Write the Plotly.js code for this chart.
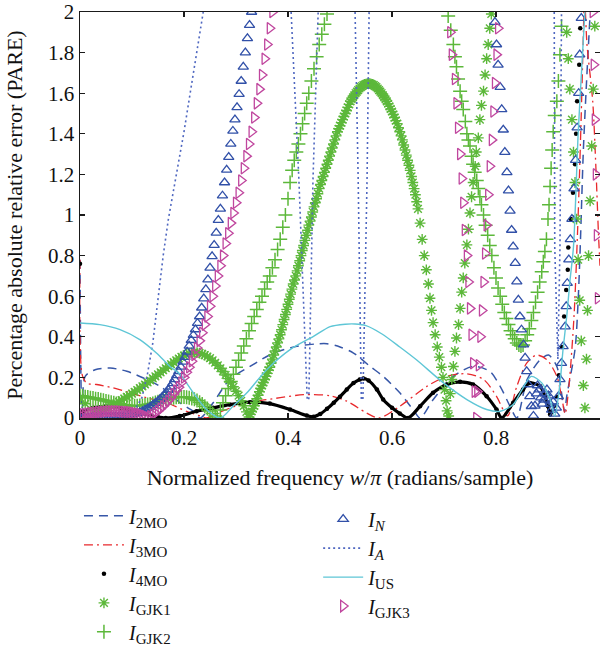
<!DOCTYPE html>
<html>
<head>
<meta charset="utf-8">
<script src="https://cdn.plot.ly/plotly-3.0.1.min.js"></script>
<style>
  html, body { margin: 0; padding: 0; background: #ffffff; }
  #chart { width: 600px; height: 648px; }
</style>
</head>
<body>
<div id="chart"></div>
<script>
// Percentage absolute relative error of several digital integrators
// versus normalized frequency. Each series is a list of [w/pi, PARE] pairs.

const xTickVals = [0, 0.2, 0.4, 0.6, 0.8, 1];
const xTickText = ['0', '0.2', '0.4', '0.6', '0.8', '1'];
const yTickVals = [0, 0.2, 0.4, 0.6, 0.8, 1, 1.2, 1.4, 1.6, 1.8, 2];
const yTickText = ['0', '0.2', '0.4', '0.6', '0.8', '1', '1.2', '1.4', '1.6', '1.8', '2'];

const i2mo = [
  [0,0.78],[0.004,0.0],[0.01,0.205],[0.029,0.238],[0.058,0.246],[0.09,0.23],[0.122,0.197],
  [0.154,0.156],[0.179,0.107],[0.192,0.075],[0.218,0.033],[0.231,0.0],[0.256,0.075],[0.288,0.19],
  [0.327,0.254],[0.372,0.32],[0.417,0.353],[0.455,0.365],[0.475,0.366],[0.5,0.35],[0.526,0.32],
  [0.558,0.254],[0.583,0.205],[0.615,0.124],[0.641,0.04],[0.654,0.0],[0.679,0.09],[0.718,0.205],
  [0.756,0.254],[0.788,0.23],[0.808,0.156],[0.827,0.058],[0.84,0.0],[0.86,0.19],[0.885,0.287],
  [0.901,0.31],[0.917,0.254],[0.926,0.124],[0.932,0.03],[0.936,0.107],[0.952,0.34],[0.958,0.58],
  [0.962,0.844],[0.968,1.32],[0.974,1.65],[0.981,1.99]
];

const i3moRise = [
  [0,0.78],[0.0045,0.21],[0.013,0.172],[0.032,0.165],[0.064,0.148],[0.096,0.124],[0.128,0.1],
  [0.167,0.075],[0.205,0.033],[0.231,0.01],[0.244,0.0],[0.27,0.03],[0.3,0.06],[0.32,0.075],
  [0.385,0.1],[0.43,0.115],[0.48,0.11],[0.513,0.083],[0.551,0.025],[0.575,0.0],[0.615,0.058],
  [0.667,0.156],[0.705,0.205],[0.744,0.218],[0.776,0.19],[0.801,0.107],[0.822,0.01],[0.84,0.156],
  [0.859,0.27],[0.878,0.31],[0.898,0.287],[0.917,0.205],[0.926,0.107],[0.933,0.02],[0.94,0.15],
  [0.95,0.5],[0.958,1.0],[0.964,1.5],[0.969,2.0]
];
const i3moFall = [[0.972,2.0],[0.975,1.84],[0.986,1.56],[0.992,1.24],[0.997,0.91],[1.0,0.75]];

const i4moCurve = [
  [0.002,0.0],[0.006,0.033],[0.025,0.05],[0.05,0.058],[0.077,0.05],[0.115,0.025],[0.15,0.004],
  [0.165,0.0],[0.192,0.01],[0.224,0.033],[0.256,0.05],[0.288,0.066],[0.327,0.078],[0.365,0.071],
  [0.404,0.042],[0.436,0.012],[0.449,0.006],[0.462,0.02],[0.475,0.045],[0.488,0.075],[0.5,0.105],
  [0.513,0.14],[0.526,0.172],[0.538,0.19],[0.545,0.195],[0.555,0.185],[0.571,0.14],[0.583,0.091],
  [0.6,0.05],[0.615,0.022],[0.631,0.0],[0.654,0.058],[0.679,0.124],[0.705,0.165],[0.731,0.178],
  [0.756,0.165],[0.782,0.107],[0.801,0.042],[0.811,0.0],[0.833,0.075],[0.852,0.14],[0.865,0.173],
  [0.885,0.156],[0.894,0.107],[0.9,0.058],[0.904,0.017]
];
const i4moDots = [
  [0,0.76],[0.907,0.03],[0.912,0.06],[0.917,0.105],[0.921,0.21],[0.927,0.35],[0.931,0.5],
  [0.935,0.63],[0.938,0.73],[0.939,0.84],[0.944,0.98],[0.948,1.11],[0.952,1.25],[0.954,1.4],
  [0.956,1.56],[0.96,1.74],[0.962,1.92]
];

const gjk1 = [
  [0,0.1],[0.01,0.07],[0.02,0.045],[0.03,0.03],[0.04,0.035],[0.045,0.04],[0.05,0.045],[0.055,0.051],
  [0.06,0.058],[0.065,0.065],[0.07,0.072],[0.075,0.08],[0.08,0.088],[0.085,0.096],[0.09,0.104],
  [0.095,0.112],[0.1,0.12],[0.105,0.129],[0.11,0.138],[0.115,0.147],[0.12,0.156],[0.125,0.165],
  [0.13,0.175],[0.135,0.185],[0.14,0.195],[0.145,0.205],[0.15,0.215],[0.155,0.225],[0.16,0.235],
  [0.165,0.245],[0.17,0.255],[0.175,0.265],[0.18,0.275],[0.185,0.284],[0.19,0.293],[0.195,0.301],
  [0.2,0.308],[0.205,0.314],[0.21,0.318],[0.215,0.321],[0.22,0.323],[0.225,0.322],[0.23,0.32],
  [0.235,0.316],[0.24,0.31],[0.245,0.303],[0.25,0.295],[0.255,0.284],[0.26,0.272],[0.265,0.259],
  [0.27,0.245],[0.275,0.229],[0.28,0.212],[0.285,0.194],[0.29,0.175],[0.295,0.154],[0.3,0.132],
  [0.305,0.11],[0.31,0.085],[0.315,0.06],[0.32,0.03],[0.325,0.005],
  [0.3275,0.018],[0.33,0.032],[0.3325,0.046],[0.335,0.06],[0.3375,0.077],[0.34,0.095],[0.3425,0.112],
  [0.345,0.13],[0.3475,0.145],[0.35,0.16],[0.3525,0.175],[0.355,0.19],[0.3575,0.205],[0.36,0.22],
  [0.3625,0.235],[0.365,0.25],[0.3675,0.27],[0.37,0.29],[0.3725,0.31],[0.375,0.33],[0.3775,0.35],
  [0.38,0.37],[0.3825,0.39],[0.385,0.41],[0.3875,0.435],[0.39,0.46],[0.3925,0.485],[0.395,0.51],
  [0.3975,0.535],[0.4,0.56],[0.4025,0.585],[0.405,0.61],[0.4075,0.635],[0.41,0.66],[0.4125,0.68],
  [0.415,0.7],[0.4175,0.725],[0.42,0.75],[0.4225,0.775],[0.425,0.8],[0.4275,0.825],[0.43,0.85],
  [0.4325,0.875],[0.435,0.9],[0.4375,0.925],[0.44,0.95],[0.4425,0.97],[0.445,0.99],[0.4475,1.015],
  [0.45,1.04],[0.4525,1.06],[0.455,1.08],[0.4575,1.105],[0.46,1.13],[0.4625,1.15],[0.465,1.17],
  [0.4675,1.19],[0.47,1.21],[0.4725,1.23],[0.475,1.25],[0.4775,1.27],[0.48,1.29],[0.4825,1.31],
  [0.485,1.33],[0.4875,1.35],[0.49,1.37],[0.4925,1.39],[0.495,1.41],[0.4975,1.425],[0.5,1.44],
  [0.5025,1.455],[0.505,1.47],[0.5075,1.485],[0.51,1.5],[0.5125,1.515],[0.515,1.53],[0.5175,1.545],
  [0.52,1.56],[0.5225,1.57],[0.525,1.58],[0.5275,1.59],[0.53,1.6],[0.5325,1.608],[0.535,1.615],
  [0.5375,1.623],[0.54,1.63],[0.5425,1.635],[0.545,1.64],[0.5475,1.643],[0.55,1.645],[0.5525,1.647],
  [0.555,1.648],[0.5575,1.647],[0.56,1.645],[0.5625,1.643],[0.565,1.64],[0.5675,1.635],[0.57,1.63],
  [0.5725,1.623],[0.575,1.615],[0.5775,1.608],[0.58,1.6],[0.5825,1.59],[0.585,1.58],[0.5875,1.57],
  [0.59,1.56],[0.5925,1.548],[0.595,1.535],[0.5975,1.522],[0.6,1.51],[0.6025,1.495],[0.605,1.48],
  [0.6075,1.465],[0.61,1.45],[0.6125,1.43],[0.615,1.41],[0.6175,1.39],[0.62,1.37],[0.6225,1.345],
  [0.625,1.32],[0.6275,1.295],[0.63,1.27],[0.6325,1.245],[0.635,1.22],[0.6375,1.19],[0.64,1.16],
  [0.6425,1.13],[0.645,1.1],[0.6475,1.065],[0.65,1.03],
  [0.654,0.96],[0.658,0.88],[0.662,0.8],[0.666,0.73],[0.67,0.66],[0.673,0.59],[0.676,0.53],
  [0.679,0.47],[0.683,0.41],[0.687,0.35],[0.691,0.3],[0.695,0.25],[0.698,0.2],[0.701,0.14],
  [0.704,0.085],[0.706,0.035],[0.709,0.01],[0.712,0.12],[0.715,0.19],[0.718,0.254],[0.721,0.328],
  [0.724,0.394],[0.728,0.46],[0.731,0.54],[0.734,0.62],[0.737,0.69],[0.74,0.763],[0.744,0.853],
  [0.747,0.93],[0.75,1.01],[0.753,1.09],[0.756,1.16],[0.76,1.24],[0.762,1.31],[0.766,1.38],
  [0.769,1.47],[0.772,1.54],[0.776,1.61],[0.779,1.69],[0.782,1.77],[0.785,1.84],[0.788,1.92],
  [0.791,1.99]
];
const gjk1Tail = [
  [0.936,1.9],[0.939,1.77],[0.942,1.62],[0.946,1.47],[0.949,1.31],[0.952,1.16],[0.955,0.98],
  [0.958,0.78],[0.961,0.58],[0.964,0.38],[0.968,0.16],[0.971,0.05],[0.974,0.29],[0.976,0.53],
  [0.978,0.8],[0.981,1.07],[0.984,1.34],[0.987,1.62],[0.99,1.93]
];

const gjk2 = [
  [0,0.11],[0.005,0.108],[0.01,0.105],[0.015,0.103],[0.02,0.1],[0.025,0.098],[0.03,0.095],
  [0.035,0.093],[0.04,0.09],[0.045,0.087],[0.05,0.084],[0.055,0.081],[0.06,0.078],[0.065,0.075],
  [0.07,0.072],[0.075,0.07],[0.08,0.067],[0.085,0.065],[0.09,0.063],[0.095,0.061],[0.1,0.06],
  [0.105,0.06],[0.11,0.06],[0.115,0.061],[0.12,0.062],[0.125,0.064],[0.13,0.066],[0.135,0.069],
  [0.14,0.072],[0.145,0.076],[0.15,0.08],[0.155,0.084],[0.16,0.088],[0.165,0.092],[0.17,0.095],
  [0.175,0.098],[0.18,0.1],[0.185,0.102],[0.19,0.103],[0.195,0.103],[0.2,0.103],[0.205,0.102],
  [0.21,0.1],[0.215,0.096],[0.22,0.092],[0.225,0.086],[0.23,0.078],[0.235,0.069],[0.24,0.058],
  [0.245,0.047],[0.25,0.035],[0.255,0.022],[0.26,0.01],[0.264,0.0],
  [0.27,0.04],[0.275,0.075],[0.28,0.11],[0.285,0.145],[0.29,0.18],[0.295,0.215],[0.3,0.25],
  [0.305,0.285],[0.31,0.32],[0.315,0.355],[0.32,0.39],[0.325,0.43],[0.33,0.465],[0.335,0.5],
  [0.34,0.535],[0.345,0.57],[0.35,0.6],[0.355,0.635],[0.36,0.67],[0.365,0.7],[0.37,0.74],
  [0.375,0.78],[0.38,0.83],[0.385,0.88],[0.39,0.94],[0.395,1.0],[0.4,1.08],[0.404,1.16],
  [0.408,1.22],[0.412,1.27],[0.416,1.31],[0.42,1.35],[0.424,1.4],[0.428,1.45],[0.432,1.5],
  [0.436,1.55],[0.44,1.6],[0.445,1.66],[0.45,1.72],[0.455,1.78],[0.46,1.84],[0.465,1.89],
  [0.47,1.94],[0.475,1.99]
];
const gjk2Tail = [
  [0.708,1.98],[0.713,1.91],[0.718,1.84],[0.721,1.78],[0.724,1.73],[0.727,1.67],[0.731,1.61],
  [0.734,1.56],[0.737,1.52],[0.741,1.46],[0.744,1.4],[0.747,1.37],[0.75,1.34],[0.753,1.29],
  [0.756,1.25],[0.759,1.21],[0.763,1.17],[0.766,1.13],[0.769,1.09],[0.772,1.05],[0.776,1.0],
  [0.78,0.95],[0.784,0.9],[0.788,0.85],[0.792,0.8],[0.796,0.74],[0.8,0.69],[0.804,0.64],
  [0.808,0.6],[0.812,0.56],[0.816,0.52],[0.82,0.49],[0.824,0.46],[0.828,0.43],[0.832,0.41],
  [0.836,0.39],[0.84,0.37],[0.844,0.36],[0.848,0.355],[0.852,0.36],[0.856,0.38],[0.86,0.41],
  [0.864,0.44],[0.868,0.48],[0.872,0.52],[0.876,0.57],[0.88,0.62],[0.884,0.67],[0.888,0.72],
  [0.891,0.77],[0.894,0.82],[0.897,0.88],[0.9,0.98],[0.902,1.05],[0.904,1.14],[0.906,1.23],
  [0.908,1.32],[0.91,1.41],[0.913,1.49],[0.917,1.56],[0.92,1.66],[0.923,1.79],[0.926,1.93]
];

const iN = [
  [0,0.0],[0.005,0.001],[0.01,0.002],[0.015,0.003],[0.02,0.004],[0.025,0.0045],[0.03,0.005],
  [0.035,0.0055],[0.04,0.006],[0.045,0.0065],[0.05,0.007],[0.055,0.0075],[0.06,0.008],
  [0.065,0.0085],[0.07,0.009],[0.075,0.01],[0.08,0.011],[0.085,0.012],[0.09,0.013],[0.095,0.015],
  [0.1,0.017],[0.105,0.02],[0.11,0.024],[0.115,0.028],[0.12,0.033],[0.125,0.04],[0.13,0.047],
  [0.135,0.055],[0.14,0.064],[0.145,0.074],[0.15,0.084],[0.154,0.093],[0.158,0.103],[0.162,0.114],
  [0.166,0.125],[0.17,0.138],[0.174,0.154],[0.178,0.171],[0.182,0.19],[0.186,0.21],[0.19,0.23],
  [0.194,0.252],[0.198,0.276],[0.202,0.3],[0.206,0.326],[0.21,0.355],[0.214,0.383],[0.218,0.408],
  [0.222,0.436],[0.226,0.467],[0.23,0.5],[0.234,0.543],[0.238,0.588],[0.242,0.634],[0.246,0.682],
  [0.25,0.74],[0.254,0.796],[0.258,0.852],[0.262,0.912],[0.266,0.975],[0.27,1.03],[0.274,1.095],
  [0.278,1.16],[0.282,1.222],[0.286,1.285],[0.29,1.35],[0.294,1.414],[0.298,1.47],[0.302,1.53],
  [0.306,1.595],[0.31,1.66],[0.314,1.73],[0.318,1.8],[0.322,1.87],[0.326,1.935],[0.33,2.0]
];
const iNTail = [
  [0.798,1.95],[0.801,1.84],[0.804,1.74],[0.808,1.63],[0.811,1.52],[0.814,1.42],[0.817,1.31],
  [0.821,1.21],[0.824,1.12],[0.827,1.02],[0.83,0.926],[0.833,0.844],[0.837,0.763],[0.84,0.672],
  [0.843,0.582],[0.846,0.5],[0.849,0.435],[0.853,0.361],[0.856,0.296],[0.859,0.23],[0.862,0.165],
  [0.865,0.107],[0.868,0.058],[0.872,0.01],[0.875,0.06],[0.878,0.12],[0.88,0.16],[0.883,0.14],
  [0.886,0.1],[0.889,0.07],[0.892,0.09],[0.895,0.12],[0.898,0.14],[0.901,0.11],[0.904,0.07],
  [0.907,0.04],[0.91,0.08],[0.913,0.02],[0.916,0.05],[0.92,0.107],[0.923,0.19],[0.926,0.27],
  [0.929,0.353],[0.933,0.45],[0.935,0.55],[0.937,0.664],[0.94,0.78],[0.943,0.88],[0.946,0.98],
  [0.95,1.13],[0.953,1.27],[0.956,1.43],[0.959,1.6],[0.961,1.79],[0.964,1.97]
];

const iALow = [
  [0,0.0],[0.05,0.0],[0.09,0.01],[0.105,0.04],[0.119,0.1],[0.13,0.22],[0.14,0.37],[0.15,0.59],
  [0.16,0.8],[0.17,0.98],[0.18,1.12],[0.19,1.27],[0.2,1.41],[0.215,1.65],[0.226,1.82],[0.237,2.0]
];
const iADip1 = [[0.406,2.0],[0.421,1.17],[0.437,0.09],[0.44,0.09],[0.448,1.17],[0.458,2.0]];
const iADip2 = [[0.529,2.0],[0.535,1.17],[0.541,0.09],[0.544,0.09],[0.552,1.17],[0.556,2.0]];
const iADip3 = [[0.912,2.0],[0.913,0.84],[0.919,0.29],[0.923,0.84],[0.926,2.0]];

const iUS = [
  [0,0.468],[0.038,0.46],[0.077,0.435],[0.115,0.386],[0.147,0.32],[0.173,0.254],[0.192,0.217],
  [0.218,0.124],[0.244,0.04],[0.27,0.0],[0.295,0.06],[0.321,0.124],[0.359,0.238],[0.404,0.337],
  [0.449,0.402],[0.481,0.45],[0.51,0.462],[0.529,0.463],[0.55,0.455],[0.58,0.415],[0.615,0.35],
  [0.647,0.287],[0.699,0.173],[0.744,0.091],[0.782,0.042],[0.808,0.033],[0.833,0.066],[0.85,0.14],
  [0.868,0.205],[0.888,0.173],[0.904,0.091],[0.913,0.01],[0.923,0.17],[0.929,0.34],[0.936,0.5],
  [0.942,0.67],[0.949,0.844],[0.958,1.4],[0.965,1.73],[0.971,2.0]
];

const gjk3 = [
  [0,0.015],[0.005,0.018],[0.01,0.02],[0.015,0.022],[0.02,0.024],[0.025,0.026],[0.03,0.027],
  [0.035,0.029],[0.04,0.03],[0.045,0.031],[0.05,0.032],[0.055,0.033],[0.06,0.033],[0.065,0.033],
  [0.07,0.033],[0.075,0.033],[0.08,0.032],[0.085,0.031],[0.09,0.03],[0.095,0.029],[0.1,0.027],
  [0.105,0.025],[0.11,0.022],[0.115,0.019],[0.12,0.015],[0.125,0.01],[0.13,0.004],[0.135,0.008],
  [0.14,0.016],[0.145,0.025],[0.15,0.035],[0.155,0.046],[0.16,0.058],[0.165,0.07],[0.17,0.085],
  [0.175,0.1],[0.18,0.118],[0.185,0.135],[0.19,0.152],[0.195,0.175],[0.2,0.2],[0.205,0.225],
  [0.21,0.25],[0.215,0.28],[0.22,0.31],[0.225,0.345],[0.23,0.38],[0.235,0.42],[0.24,0.46],
  [0.245,0.5],[0.25,0.55],[0.255,0.6],[0.26,0.65],[0.265,0.7],[0.27,0.75],[0.275,0.8],[0.28,0.86],
  [0.285,0.91],[0.29,0.96],[0.295,1.01],[0.3,1.06],[0.305,1.11],[0.31,1.17],[0.315,1.23],
  [0.32,1.29],[0.325,1.35],[0.33,1.41],[0.335,1.48],[0.34,1.55],[0.345,1.62],[0.35,1.69],
  [0.355,1.77],[0.36,1.84],[0.365,1.92],[0.37,2.0]
];
const gjk3Dip = [
  [0.712,1.9],[0.715,1.79],[0.721,1.67],[0.724,1.55],[0.727,1.43],[0.731,1.3],[0.734,1.18],
  [0.737,1.06],[0.74,0.926],[0.744,0.8],[0.747,0.67],[0.75,0.54],[0.753,0.41],[0.756,0.27],
  [0.759,0.13],[0.762,0.0],[0.764,0.13],[0.767,0.26],[0.77,0.4],[0.773,0.53],[0.776,0.67],
  [0.779,0.81],[0.782,0.95],[0.785,1.1],[0.788,1.24],[0.792,1.37],[0.795,1.51],[0.798,1.65],
  [0.801,1.79],[0.804,1.92]
];
const gjk3Edge = [[0.986,2.0],[0.988,1.74],[0.99,1.47],[0.992,1.2],[0.994,0.9],[0.996,0.59]];

// ---- helpers that only reshape the lists above for Plotly ----
function cols(pairs) {
  return { x: pairs.map(p => p[0]), y: pairs.map(p => p[1]) };
}
function withBreaks(pieces) {
  const out = [];
  pieces.forEach((p, i) => { if (i) out.push([null, null]); out.push(...p); });
  return out;
}
// legend label: italic I with an upright subscript
function label(sub) {
  return '<i>I</i><sub><span style="font-size:15px">' + sub + '</span></sub>';
}

const serif = 'Liberation Serif, Times New Roman, serif';
const green = '#5cb83a';

function lineTrace(pairs, name, color, width, dash, legend, shape) {
  const d = cols(pairs);
  return {
    type: 'scatter', mode: 'lines', x: d.x, y: d.y, name: name, legend: legend,
    line: { color: color, width: width, dash: dash, shape: shape || 'spline', smoothing: 0.8 },
    connectgaps: false, hoverinfo: 'skip'
  };
}
function markerTrace(pairs, name, symbol, size, color, lw, legend) {
  const d = cols(pairs);
  return {
    type: 'scatter', mode: 'markers', x: d.x, y: d.y, name: name, legend: legend,
    marker: { symbol: symbol, size: size, color: color, line: { color: color, width: lw } },
    hoverinfo: 'skip'
  };
}

const traces = [
  lineTrace(i2mo, label('2MO'), '#3757a8', 1.5, '9px,6px', 'legend'),
  lineTrace(withBreaks([i3moRise, i3moFall]), label('3MO'), '#e8292c', 1.3, '9px,4px,2px,4px', 'legend'),
  Object.assign(lineTrace(i4moCurve, label('4MO'), '#000000', 3.2, 'solid', 'legend'), { showlegend: false, legendgroup: 'mo4' }),
  Object.assign(markerTrace(i4moCurve.concat(i4moDots), label('4MO'), 'circle', 4.5, '#000000', 0, 'legend'), { legendgroup: 'mo4' }),
  markerTrace(gjk1.concat(gjk1Tail), label('GJK1'), 'asterisk-open', 9, green, 1.4, 'legend'),
  markerTrace(gjk2.concat(gjk2Tail), label('GJK2'), 'cross-thin-open', 10, green, 1.5, 'legend'),
  markerTrace(iN.concat(iNTail), '<i>I</i><sub><span style="font-size:15px"><i>N</i></span></sub>', 'triangle-up-open', 9, '#3150a8', 1.3, 'legend2'),
  lineTrace(withBreaks([iALow, iADip1, iADip2, iADip3]), '<i>I</i><sub><span style="font-size:15px"><i>A</i></span></sub>', '#4f67c0', 1.6, '2px,3px', 'legend2', 'linear'),
  lineTrace(iUS, label('US'), '#5ec6d6', 1.4, 'solid', 'legend2'),
  markerTrace(gjk3.concat(gjk3Dip, gjk3Edge), label('GJK3'), 'triangle-right-open', 10, '#c0469e', 1.3, 'legend2')
];

const axisCommon = {
  showgrid: false, zeroline: false, showline: true, linecolor: '#1a1a1a', linewidth: 1.5,
  mirror: 'ticks', ticks: 'inside', ticklen: 5, tickwidth: 1.2, tickcolor: '#1a1a1a',
  tickfont: { family: serif, size: 21, color: '#111111' }
};

const legendCommon = {
  orientation: 'v', xanchor: 'left', yanchor: 'top', yref: 'container', bgcolor: 'rgba(0,0,0,0)',
  font: { family: serif, size: 20, color: '#111111' }, itemwidth: 40, traceorder: 'normal'
};

const layout = {
  width: 600, height: 648,
  margin: { l: 80, r: 0, t: 12, b: 230 },
  paper_bgcolor: '#ffffff', plot_bgcolor: '#ffffff',
  xaxis: Object.assign({}, axisCommon, {
    range: [0, 1], tickmode: 'array', tickvals: xTickVals, ticktext: xTickText,
    title: { text: 'Normalized frequency <i>w</i>/<i>π</i> (radians/sample)', font: { family: serif, size: 22, color: '#111111' }, standoff: 21 }
  }),
  yaxis: Object.assign({}, axisCommon, {
    range: [0, 2], tickmode: 'array', tickvals: yTickVals, ticktext: yTickText,
    title: { text: 'Percentage absolute relative error (PARE)', font: { family: serif, size: 22, color: '#111111' }, standoff: 19 }
  }),
  showlegend: true,
  legend: Object.assign({}, legendCommon, { x: -0.002, y: 0.234 }),
  legend2: Object.assign({}, legendCommon, { x: 0.458, y: 0.229 })
};

Plotly.newPlot('chart', traces, layout, { displayModeBar: false, staticPlot: true });
</script>
</body>
</html>
